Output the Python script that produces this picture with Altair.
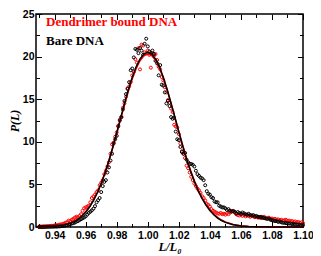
import altair as alt
import pandas as pd

# ---- data ----
x_start = 0.930
x_step = 0.001

bare = [
    0.00, 0.00, 0.00, 0.00, 0.00, 0.02, 0.02, 0.03, 0.03, 0.04,
    0.05, 0.05, 0.06, 0.08, 0.09, 0.12, 0.15, 0.18, 0.22, 0.27,
    0.33, 0.40, 0.45, 0.52, 0.62, 0.70, 0.80, 0.92, 1.02, 1.12,
    1.25, 1.45, 1.65, 1.80, 1.95, 2.15, 2.45, 2.90, 3.15, 3.40,
    4.10, 4.80, 5.30, 5.50, 6.40, 7.00, 7.80, 8.60, 9.80, 10.30,
    10.70, 11.80, 12.50, 12.90, 13.80, 14.80, 15.60, 16.20, 17.00, 18.40,
    18.60, 19.90, 20.90, 20.80, 20.40, 21.00, 20.70, 20.20, 21.50, 22.10,
    21.20, 20.60, 20.40, 20.70, 20.30, 19.50, 19.20, 17.80, 19.00, 16.70,
    16.60, 15.80, 14.50, 14.80, 14.20, 12.90, 12.70, 12.80, 11.20, 10.30,
    10.20, 9.40, 8.80, 8.60, 8.70, 7.90, 7.60, 7.40, 7.40, 7.30,
    7.10, 6.60, 6.20, 6.00, 5.80, 5.70, 5.50, 4.90, 4.20, 3.90,
    3.80, 3.50, 3.40, 3.00, 2.90, 2.90, 2.50, 2.40, 2.30, 2.30,
    2.20, 2.00, 2.10, 1.90, 1.80, 1.85, 1.80, 1.60, 1.75, 1.65,
    1.55, 1.70, 1.60, 1.50, 1.45, 1.55, 1.40, 1.35, 1.40, 1.25,
    1.30, 1.20, 1.15, 1.20, 1.10, 1.05, 1.00, 0.95, 1.00, 0.85,
    0.80, 0.75, 0.70, 0.70, 0.60, 0.65, 0.55, 0.50, 0.50, 0.45,
    0.45, 0.40, 0.40, 0.35, 0.35, 0.30, 0.30, 0.25, 0.25, 0.20,
    0.20,
]

dendrimer = [
    0.05, 0.05, 0.06, 0.08, 0.08, 0.10, 0.10, 0.12, 0.13, 0.15,
    0.18, 0.20, 0.22, 0.28, 0.30, 0.35, 0.40, 0.50, 0.55, 0.75,
    0.70, 0.85, 0.95, 1.10, 1.20, 1.15, 1.30, 1.50, 1.90, 2.20,
    2.30, 2.40, 2.50, 2.90, 3.40, 3.60, 3.80, 4.10, 4.30, 4.90,
    5.20, 5.50, 6.20, 6.60, 7.10, 7.60, 8.60, 9.70, 9.90, 10.60,
    11.10, 11.90, 12.60, 12.90, 14.00, 14.50, 15.30, 16.30, 16.50, 17.00,
    17.80, 18.20, 19.70, 19.30, 21.00, 18.50, 21.40, 21.30, 20.50, 20.40,
    20.70, 20.20, 18.70, 20.40, 20.10, 20.30, 19.60, 18.80, 18.50, 17.60,
    17.20, 16.40, 15.80, 14.90, 14.60, 13.90, 13.50, 12.00, 11.80, 11.70,
    10.90, 9.80, 8.90, 8.60, 8.10, 7.20, 6.90, 6.40, 5.90, 5.50,
    5.10, 4.80, 4.50, 4.30, 4.00, 3.60, 3.40, 3.10, 2.70, 2.60,
    2.40, 2.10, 1.90, 1.80, 1.70, 1.60, 1.55, 1.65, 1.50, 1.55,
    1.45, 1.60, 1.50, 1.70, 1.85, 1.90, 1.70, 1.50, 1.40, 1.35,
    1.45, 1.30, 1.40, 1.25, 1.35, 1.30, 1.20, 1.30, 1.25, 1.15,
    1.20, 1.10, 1.15, 1.05, 1.10, 1.20, 1.05, 1.00, 1.10, 0.95,
    1.00, 0.90, 0.95, 0.85, 0.90, 0.80, 0.85, 0.75, 0.80, 0.85,
    0.70, 0.75, 0.65, 0.70, 0.60, 0.65, 0.55, 0.60, 0.50, 0.55,
    0.45,
]

fit_x = [0.928, 0.930, 0.935, 0.940, 0.945, 0.950, 0.9525, 0.955, 0.9575, 0.960,
         0.9625, 0.965, 0.9675, 0.970, 0.9725, 0.975, 0.9775, 0.980, 0.9825, 0.985,
         0.9875, 0.990, 0.9925, 0.995, 0.9975, 1.000, 1.0025, 1.005, 1.0075, 1.010,
         1.0125, 1.015, 1.0175, 1.020, 1.0225, 1.025, 1.0275, 1.030, 1.0325, 1.035,
         1.0375, 1.040, 1.0425, 1.045, 1.0475, 1.050, 1.055, 1.060, 1.065, 1.070,
         1.080, 1.090, 1.100]
fit_bare = [0.00, 0.01, 0.03, 0.08, 0.19, 0.43, 0.63, 0.90, 1.26, 1.73,
            2.34, 3.10, 4.02, 5.11, 6.38, 7.81, 9.38, 11.06, 12.78, 14.49,
            16.11, 17.57, 18.80, 19.72, 20.30, 20.50, 20.30, 19.72, 18.80, 17.57,
            16.13, 14.53, 12.85, 11.16, 9.52, 7.98, 6.58, 5.33, 4.24, 3.32,
            2.56, 1.94, 1.44, 1.05, 0.76, 0.54, 0.26, 0.12, 0.05, 0.02,
            0.00, 0.00, 0.00]
fit_dend = [0.00, 0.01, 0.03, 0.09, 0.21, 0.46, 0.67, 0.95, 1.31, 1.79,
            2.40, 3.16, 4.07, 5.15, 6.40, 7.80, 9.34, 10.98, 12.66, 14.34,
            15.93, 17.37, 18.59, 19.51, 20.09, 20.30, 20.12, 19.56, 18.67, 17.48,
            16.07, 14.51, 12.87, 11.21, 9.60, 8.08, 6.69, 5.45, 4.36, 3.44,
            2.67, 2.04, 1.53, 1.13, 0.82, 0.59, 0.29, 0.14, 0.06, 0.02,
            0.00, 0.00, 0.00]

series_names = ["Dendrimer bound DNA", "Bare DNA"]
series_colors = ["#ff0000", "#000000"]

x_major = [0.94, 0.96, 0.98, 1.00, 1.02, 1.04, 1.06, 1.08, 1.10]
x_minor = [0.93, 0.95, 0.97, 0.99, 1.01, 1.03, 1.05, 1.07, 1.09]
y_major = [0, 5, 10, 15, 20, 25]
y_minor = [2.5, 7.5, 12.5, 17.5, 22.5]

# ---- tables ----
xs = [round(x_start + i * x_step, 3) for i in range(len(bare))]
df_bare = pd.DataFrame({"x": xs, "P": bare, "series": series_names[1]})
df_dend = pd.DataFrame({"x": xs, "P": dendrimer, "series": series_names[0]})
df_fit = pd.DataFrame({"x": fit_x, "bare": fit_bare, "dend": fit_dend})

W, H = 267, 213
MAJ, MIN = 5.5, 3.5
xscale = alt.Scale(domain=[0.928, 1.10], nice=False, zero=False)
yscale = alt.Scale(domain=[0, 25], nice=False, zero=True)


def tick_axis(orient, values, size, off):
    return alt.Axis(orient=orient, offset=off, values=values, tickSize=size,
                    labels=False, domain=False, grid=False, title=None,
                    tickColor="black", tickWidth=1)


x_main = alt.Axis(orient="bottom", values=x_major, format=".2f", ticks=False,
                  domain=False, grid=False, labelFont="Liberation Sans",
                  labelFontWeight="bold", labelFontSize=10.5, labelPadding=3,
                  labelColor="black", labelOverlap=False, labelFlush=False,
                  title="L/L\u2080",
                  titleFont="Liberation Serif", titleFontStyle="italic",
                  titleFontWeight="bold", titleFontSize=12.5,
                  titleBaseline="alphabetic", titleY=23,
                  titleColor="black")
y_main = alt.Axis(orient="left", values=y_major, format="d", ticks=False,
                  domain=False, grid=False, labelFont="Liberation Sans",
                  labelFontWeight="bold", labelFontSize=10.5, labelPadding=2,
                  labelColor="black", labelOverlap=False, labelFlush=False,
                  title="P(L)",
                  titleFont="Liberation Serif", titleFontStyle="italic",
                  titleFontWeight="bold", titleFontSize=12, titlePadding=1,
                  titleColor="black")

legend = alt.Legend(orient="none", legendX=-3, legendY=1, title=None,
                    symbolSize=0, symbolOpacity=0, symbolStrokeWidth=0,
                    labelOffset=0, labelFont="Liberation Serif",
                    labelFontWeight="bold", labelFontSize=13,
                    labelColor=alt.ExprRef("datum.value == 'Bare DNA' ? 'black' : 'red'"),
                    rowPadding=5, padding=0)
color = alt.Color("series:N", scale=alt.Scale(domain=series_names, range=series_colors),
                  legend=legend)

pts_red = alt.Chart(df_dend).mark_point(shape="circle", filled=False, size=9,
                                        strokeWidth=1, opacity=1).encode(
    x=alt.X("x:Q", scale=xscale, axis=tick_axis("top", x_minor, MIN, -H)),
    y=alt.Y("P:Q", scale=yscale, axis=tick_axis("right", y_minor, MIN, -W)),
    color=color,
)
pts_black = alt.Chart(df_bare).mark_point(shape="circle", filled=False, size=9,
                                          strokeWidth=1, opacity=1).encode(
    x=alt.X("x:Q", scale=xscale, axis=tick_axis("bottom", x_major, MAJ, -H)),
    y=alt.Y("P:Q", scale=yscale, axis=tick_axis("left", y_major, MAJ, -W)),
    color=color,
)
line_red = alt.Chart(df_fit).mark_line(color="#ff0000", strokeWidth=1.5).encode(
    x=alt.X("x:Q", scale=xscale, axis=x_main),
    y=alt.Y("dend:Q", scale=yscale, axis=y_main),
)
line_black = alt.Chart(df_fit).mark_line(color="#000000", strokeWidth=1.5).encode(
    x=alt.X("x:Q", scale=xscale, axis=tick_axis("top", x_major, MAJ, -H)),
    y=alt.Y("bare:Q", scale=yscale, axis=tick_axis("right", y_major, MAJ, -W)),
)
line_ghost = alt.Chart(df_fit).mark_line(color="#000000", opacity=0).encode(
    x=alt.X("x:Q", scale=xscale, axis=tick_axis("bottom", x_minor, MIN, -H)),
    y=alt.Y("bare:Q", scale=yscale, axis=tick_axis("left", y_minor, MIN, -W)),
)

chart = alt.layer(pts_red, pts_black, line_red, line_black, line_ghost).resolve_axis(
    x="independent", y="independent"
).properties(
    width=W, height=H,
    autosize=alt.AutoSizeParams(type="none"),
    padding={"left": 28, "top": 6, "right": 10, "bottom": 28},
    background="white",
).configure_view(stroke="black", strokeWidth=1.5)

chart.save("out.html", embed_options={"renderer": "svg", "actions": False})
